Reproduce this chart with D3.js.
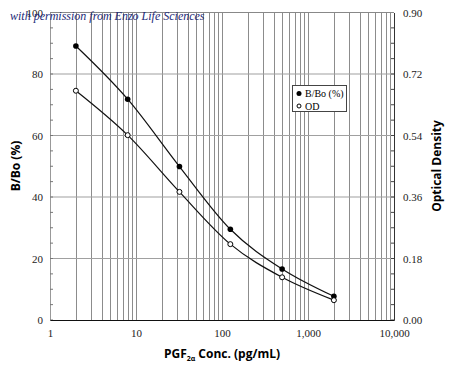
<!DOCTYPE html>
<html><head><meta charset="utf-8">
<script src="https://cdn.jsdelivr.net/npm/d3@7"></script>
<style>body{margin:0;background:#fff}</style>
</head><body><svg id="c" width="450" height="366"></svg>
<script>
const conc = [2, 8, 32, 125, 500, 2000];
const bbo = [89.1, 71.8, 49.9, 29.5, 16.6, 7.7];
const od = [0.671, 0.541, 0.375, 0.222, 0.125, 0.058];
const xTicks = [1, 10, 100, 1000, 10000];
const xTickLabels = ["1", "10", "100", "1,000", "10,000"];
const leftTicks = [0, 20, 40, 60, 80, 100];
const rightTicks = [0, 0.18, 0.36, 0.54, 0.72, 0.90];

const svg = d3.select("#c");
const L = 50, R = 394, T = 12.5, B = 320;
const x = d3.scaleLog().domain([1, 10000]).range([L, R]);
const yL = d3.scaleLinear().domain([0, 100]).range([B, T]);
const yR = d3.scaleLinear().domain([0, 0.9]).range([B, T]);

// vertical grid
const minor = [];
for (let k = 0; k < 4; k++) for (let m = 1; m <= 9; m++) minor.push(m * Math.pow(10, k));
svg.append("g").selectAll("line").data(minor.filter(v => v > 1)).join("line")
  .attr("x1", d => Math.round(x(d)) + 0.5).attr("x2", d => Math.round(x(d)) + 0.5)
  .attr("y1", T).attr("y2", B).attr("stroke", "#8c8c8c").attr("stroke-width", 1);
// horizontal grid
svg.append("g").selectAll("line").data(leftTicks.slice(1)).join("line")
  .attr("x1", L).attr("x2", R).attr("y1", d => yL(d)).attr("y2", d => yL(d))
  .attr("stroke", "#a0a0a0").attr("stroke-width", 1.2);

// axes
const gl = svg.append("g").attr("transform", `translate(${L},0)`)
  .call(d3.axisLeft(yL).tickValues(leftTicks).tickSize(0).tickPadding(7));
gl.select(".domain").attr("stroke", "#999");
gl.selectAll("text").attr("font-family", "Liberation Serif").attr("font-size", 11).attr("fill", "#222");
svg.append("g").selectAll("line").data(d3.range(0, 101, 5)).join("line")
  .attr("x1", L).attr("x2", L + 3).attr("y1", d => yL(d)).attr("y2", d => yL(d)).attr("stroke", "#777");

const gr = svg.append("g").attr("transform", `translate(${R},0)`)
  .call(d3.axisRight(yR).tickValues(rightTicks).tickSize(0).tickPadding(9).tickFormat(d3.format(".2f")));
gr.select(".domain").attr("stroke", "#333");
gr.selectAll("text").attr("font-family", "Liberation Serif").attr("font-size", 11).attr("fill", "#222");
svg.append("g").selectAll("line").data(d3.range(0, 21)).join("line")
  .attr("x1", R).attr("x2", R - 3).attr("y1", d => yR(d * 0.045)).attr("y2", d => yR(d * 0.045)).attr("stroke", "#444");

const gb = svg.append("g").attr("transform", `translate(0,${B})`)
  .call(d3.axisBottom(x).tickValues(xTicks).tickSize(0).tickPadding(9).tickFormat((d, i) => xTickLabels[i]));
gb.select(".domain").attr("stroke", "#111");
gb.selectAll("text").attr("font-family", "Liberation Serif").attr("font-size", 11).attr("fill", "#222");
svg.append("line").attr("x1", L).attr("x2", R).attr("y1", T).attr("y2", T).attr("stroke", "#888");

// curves
const line = d3.line().curve(d3.curveMonotoneX);
const ptsB = conc.map((c, i) => [x(c), yL(bbo[i])]);
const ptsO = conc.map((c, i) => [x(c), yR(od[i])]);
svg.append("path").attr("d", line(ptsB)).attr("fill", "none").attr("stroke", "#111").attr("stroke-width", 1.2);
svg.append("path").attr("d", line(ptsO)).attr("fill", "none").attr("stroke", "#111").attr("stroke-width", 1.2);
svg.append("g").selectAll("circle").data(ptsB).join("circle")
  .attr("cx", d => d[0]).attr("cy", d => d[1]).attr("r", 2.8).attr("fill", "#000");
svg.append("g").selectAll("circle").data(ptsO).join("circle")
  .attr("cx", d => d[0]).attr("cy", d => d[1]).attr("r", 2.5).attr("fill", "#fff").attr("stroke", "#000").attr("stroke-width", 1);

// legend
const lg = svg.append("g");
lg.append("rect").attr("x", 292.5).attr("y", 85.5).attr("width", 54).attr("height", 26).attr("fill", "#fff").attr("stroke", "#444");
lg.append("circle").attr("cx", 299).attr("cy", 93.5).attr("r", 2.5).attr("fill", "#000");
lg.append("circle").attr("cx", 299).attr("cy", 106).attr("r", 2).attr("fill", "#fff").attr("stroke", "#000");
lg.append("text").attr("x", 305).attr("y", 97).text("B/Bo (%)").attr("font-family", "Liberation Serif").attr("font-size", 10);
lg.append("text").attr("x", 305).attr("y", 109.5).text("OD").attr("font-family", "Liberation Serif").attr("font-size", 10);

// titles
svg.append("text").attr("transform", "translate(20,166) rotate(-90)").attr("text-anchor", "middle")
  .attr("font-family", "Open Sans").attr("font-weight", "bold").attr("font-size", 12).text("B/Bo (%)");
svg.append("text").attr("transform", "translate(441,166) rotate(-90)").attr("text-anchor", "middle")
  .attr("font-family", "Open Sans").attr("font-weight", "bold").attr("font-size", 12).text("Optical Density");
const xt = svg.append("text").attr("x", 222).attr("y", 358).attr("text-anchor", "middle")
  .attr("font-family", "Open Sans").attr("font-weight", "bold").attr("font-size", 12);
xt.append("tspan").text("PGF");
xt.append("tspan").attr("font-size", 7).attr("dy", 3).text("2α");
xt.append("tspan").attr("dy", -3).text(" Conc. (pg/mL)");

// watermark
svg.append("text").attr("x", 10).attr("y", 20).attr("font-family", "Liberation Serif").attr("font-style", "italic")
  .attr("font-size", 12).attr("fill", "#1c2a78").text("with permission from Enzo Life Sciences");
</script></body></html>
